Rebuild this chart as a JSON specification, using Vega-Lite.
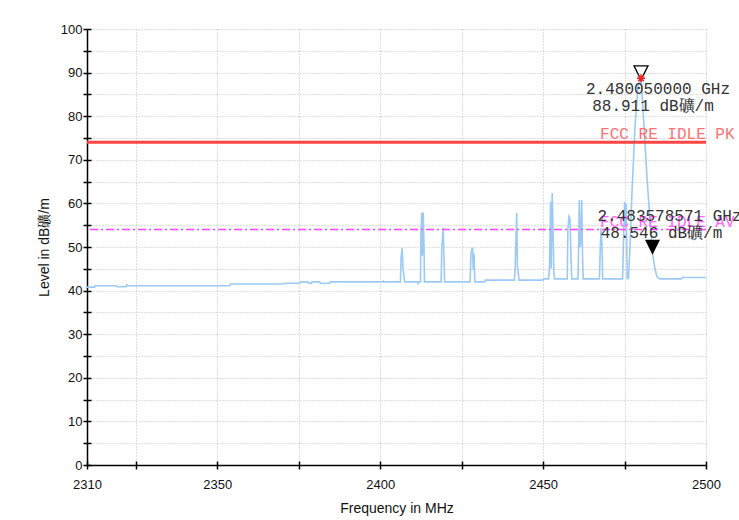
{
  "$schema": "https://vega.github.io/schema/vega-lite/v6.json",
  "width": 619,
  "height": 436,
  "autosize": {"type": "none"},
  "padding": {"left": 87, "top": 29, "right": 33, "bottom": 55},
  "background": "white",
  "config": {
    "view": {"stroke": null},
    "axis": {
      "domainColor": "#000000", "domainWidth": 1.5,
      "tickColor": "#000000", "tickWidth": 1.5, "tickSize": 4,
      "labelFont": "Liberation Sans", "labelFontSize": 13, "labelColor": "#111111",
      "titleFont": "Liberation Sans", "titleFontSize": 14, "titleFontWeight": "normal", "titleColor": "#111111",
      "gridColor": "#bdbdbd", "gridDash": [1, 2], "gridWidth": 1,
      "labelFlush": false, "labelOverlap": false
    }
  },
  "datasets": {
    "trace": [
      {"freq": 2310, "level": 40.8}, {"freq": 2312.3, "level": 40.8}, {"freq": 2312.5, "level": 41.1},
      {"freq": 2319.0, "level": 41.1}, {"freq": 2319.2, "level": 40.9}, {"freq": 2322.0, "level": 40.9},
      {"freq": 2322.2, "level": 41.3}, {"freq": 2322.5, "level": 41.1}, {"freq": 2353.8, "level": 41.1},
      {"freq": 2354.0, "level": 41.5}, {"freq": 2370.1, "level": 41.5}, {"freq": 2370.3, "level": 41.7},
      {"freq": 2375.3, "level": 41.7}, {"freq": 2375.5, "level": 42.0}, {"freq": 2377.8, "level": 42.0},
      {"freq": 2378.0, "level": 41.7}, {"freq": 2378.9, "level": 41.7}, {"freq": 2379.1, "level": 42.0},
      {"freq": 2381.4, "level": 42.0}, {"freq": 2381.6, "level": 41.7}, {"freq": 2384.5, "level": 41.7},
      {"freq": 2384.7, "level": 42.0}, {"freq": 2400.8, "level": 42.0}, {"freq": 2401.0, "level": 42.2},
      {"freq": 2401.2, "level": 42.0},
      {"freq": 2406.2, "level": 42.0}, {"freq": 2406.4, "level": 47.5}, {"freq": 2406.75, "level": 49.8},
      {"freq": 2407.0, "level": 45.0}, {"freq": 2407.3, "level": 43.2}, {"freq": 2407.5, "level": 42.0},
      {"freq": 2411.4, "level": 42.0}, {"freq": 2411.6, "level": 41.6}, {"freq": 2411.9, "level": 42.0},
      {"freq": 2412.35, "level": 42.0}, {"freq": 2412.5, "level": 53.0}, {"freq": 2412.75, "level": 57.9},
      {"freq": 2412.95, "level": 48.0}, {"freq": 2413.2, "level": 57.9}, {"freq": 2413.45, "level": 50.0},
      {"freq": 2413.6, "level": 42.0},
      {"freq": 2418.7, "level": 42.0}, {"freq": 2418.9, "level": 49.8}, {"freq": 2419.15, "level": 52.0},
      {"freq": 2419.35, "level": 54.4}, {"freq": 2419.55, "level": 48.0}, {"freq": 2419.75, "level": 42.0},
      {"freq": 2427.6, "level": 42.0}, {"freq": 2427.85, "level": 48.5}, {"freq": 2428.1, "level": 49.3},
      {"freq": 2428.35, "level": 49.8}, {"freq": 2428.55, "level": 44.8}, {"freq": 2428.8, "level": 48.5},
      {"freq": 2429.05, "level": 42.0},
      {"freq": 2432.1, "level": 42.0}, {"freq": 2432.3, "level": 42.4},
      {"freq": 2441.2, "level": 42.4}, {"freq": 2441.4, "level": 44.8}, {"freq": 2441.65, "level": 51.6},
      {"freq": 2441.9, "level": 57.8}, {"freq": 2442.1, "level": 45.5}, {"freq": 2442.3, "level": 44.8},
      {"freq": 2442.6, "level": 42.4},
      {"freq": 2449.9, "level": 42.4}, {"freq": 2450.1, "level": 42.7},
      {"freq": 2451.7, "level": 42.7}, {"freq": 2451.95, "level": 45.2}, {"freq": 2452.3, "level": 60.4},
      {"freq": 2452.5, "level": 45.0}, {"freq": 2452.8, "level": 62.4}, {"freq": 2453.1, "level": 52.4},
      {"freq": 2453.3, "level": 44.0}, {"freq": 2453.5, "level": 42.7},
      {"freq": 2457.4, "level": 42.7}, {"freq": 2457.6, "level": 54.0}, {"freq": 2457.95, "level": 57.0},
      {"freq": 2458.25, "level": 56.5}, {"freq": 2458.5, "level": 49.4}, {"freq": 2458.8, "level": 42.7},
      {"freq": 2460.7, "level": 42.7}, {"freq": 2460.9, "level": 50.0}, {"freq": 2461.1, "level": 60.8},
      {"freq": 2461.4, "level": 50.0}, {"freq": 2461.6, "level": 52.0}, {"freq": 2461.85, "level": 60.8},
      {"freq": 2462.1, "level": 48.0}, {"freq": 2462.3, "level": 42.7},
      {"freq": 2467.3, "level": 42.7}, {"freq": 2467.55, "level": 50.0}, {"freq": 2467.8, "level": 54.3},
      {"freq": 2468.05, "level": 51.0}, {"freq": 2468.3, "level": 42.7},
      {"freq": 2474.4, "level": 42.7}, {"freq": 2474.7, "level": 52.0}, {"freq": 2475.0, "level": 60.4},
      {"freq": 2475.3, "level": 55.0}, {"freq": 2475.5, "level": 60.0}, {"freq": 2475.8, "level": 43.0},
      {"freq": 2476.0, "level": 42.7},
      {"freq": 2476.2, "level": 42.8}, {"freq": 2476.67, "level": 50.0}, {"freq": 2477.28, "level": 62.5},
      {"freq": 2478.2, "level": 77.5}, {"freq": 2479.12, "level": 86.9}, {"freq": 2480.05, "level": 88.911},
      {"freq": 2480.67, "level": 81.5}, {"freq": 2481.9, "level": 65.8}, {"freq": 2482.8, "level": 56.2},
      {"freq": 2483.58, "level": 48.546}, {"freq": 2484.34, "level": 45.0}, {"freq": 2484.95, "level": 43.2},
      {"freq": 2485.87, "level": 42.7}, {"freq": 2492.5, "level": 42.7}, {"freq": 2492.7, "level": 43.0},
      {"freq": 2500, "level": 43.0}
    ],
    "limits": [
      {"kind": "PK", "label": "FCC RE IDLE PK", "level": 74, "labelAt": 2467.5},
      {"kind": "AV", "label": "FCC RE IDLE AV", "level": 54, "labelAt": 2467.5}
    ],
    "markers": [
      {"id": 1, "freq": 2480.05, "level": 88.911, "line1": "2.480050000 GHz", "line2": "88.911 dB礦/m"},
      {"id": 2, "freq": 2483.578571, "level": 48.546, "line1": "2.483578571 GHz", "line2": "48.546 dB礦/m"}
    ]
  },
  "layer": [
    {
      "data": {"name": "trace"},
      "mark": {"type": "line", "color": "#9ccaf5", "strokeWidth": 1.6, "clip": true},
      "encoding": {
        "x": {
          "field": "freq", "type": "quantitative",
          "scale": {"domain": [2310, 2500], "nice": false, "zero": false},
          "axis": {
            "orient": "bottom",
            "values": [2310, 2325, 2350, 2375, 2400, 2425, 2450, 2475, 2500],
            "format": "d",
            "labelExpr": "indexof([2310, 2350, 2400, 2450, 2500], datum.value) >= 0 ? datum.label : ''",
            "grid": true, "tickSize": 4, "labelPadding": 9,
            "title": "Frequency in MHz", "titlePadding": 10
          }
        },
        "y": {
          "field": "level", "type": "quantitative",
          "scale": {"domain": [0, 100], "nice": false, "zero": false},
          "axis": {
            "orient": "left",
            "values": [0, 5, 10, 15, 20, 25, 30, 35, 40, 45, 50, 55, 60, 65, 70, 75, 80, 85, 90, 95, 100],
            "format": "d",
            "labelExpr": "datum.value % 10 == 0 ? datum.label : ''",
            "grid": true, "tickSize": 4, "labelPadding": 1,
            "title": "Level in dB礦/m", "titlePadding": 9
          }
        }
      }
    },
    {
      "data": {"name": "limits"},
      "transform": [{"filter": "datum.kind == 'PK'"}],
      "mark": {"type": "rule", "color": "#ff4444", "strokeWidth": 3},
      "encoding": {
        "y": {"field": "level", "type": "quantitative", "scale": {"domain": [0, 100], "nice": false, "zero": false}, "axis": null}
      }
    },
    {
      "data": {"name": "limits"},
      "transform": [{"filter": "datum.kind == 'AV'"}],
      "mark": {"type": "rule", "color": "#ff44ff", "strokeWidth": 1.5, "strokeDash": [8, 3, 2, 3]},
      "encoding": {
        "y": {"field": "level", "type": "quantitative", "scale": {"domain": [0, 100], "nice": false, "zero": false}, "axis": null}
      }
    },
    {
      "data": {"name": "limits"},
      "mark": {"type": "text", "align": "left", "baseline": "middle", "dy": -8, "font": "Liberation Mono", "fontSize": 16},
      "encoding": {
        "x": {"field": "labelAt", "type": "quantitative", "scale": {"domain": [2310, 2500], "nice": false, "zero": false}, "axis": null},
        "y": {"field": "level", "type": "quantitative", "scale": {"domain": [0, 100], "nice": false, "zero": false}, "axis": null},
        "text": {"field": "label"},
        "color": {"field": "kind", "type": "nominal", "scale": {"domain": ["PK", "AV"], "range": ["#ff7070", "#ff66ff"]}, "legend": null}
      }
    },
    {
      "data": {"name": "markers"},
      "transform": [{"filter": "datum.id == 1"}],
      "mark": {"type": "text", "align": "center", "baseline": "middle", "dx": 17, "dy": 12, "font": "Liberation Mono", "fontSize": 16, "color": "#333333"},
      "encoding": {
        "x": {"field": "freq", "type": "quantitative", "scale": {"domain": [2310, 2500], "nice": false, "zero": false}, "axis": null},
        "y": {"field": "level", "type": "quantitative", "scale": {"domain": [0, 100], "nice": false, "zero": false}, "axis": null},
        "text": {"field": "line1"}
      }
    },
    {
      "data": {"name": "markers"},
      "transform": [{"filter": "datum.id == 1"}],
      "mark": {"type": "text", "align": "center", "baseline": "middle", "dx": 12, "dy": 29, "font": "Liberation Mono", "fontSize": 16, "color": "#333333"},
      "encoding": {
        "x": {"field": "freq", "type": "quantitative", "scale": {"domain": [2310, 2500], "nice": false, "zero": false}, "axis": null},
        "y": {"field": "level", "type": "quantitative", "scale": {"domain": [0, 100], "nice": false, "zero": false}, "axis": null},
        "text": {"field": "line2"}
      }
    },
    {
      "data": {"name": "markers"},
      "transform": [{"filter": "datum.id == 2"}],
      "mark": {"type": "text", "align": "center", "baseline": "middle", "dx": 17, "dy": -37, "font": "Liberation Mono", "fontSize": 16, "color": "#333333"},
      "encoding": {
        "x": {"field": "freq", "type": "quantitative", "scale": {"domain": [2310, 2500], "nice": false, "zero": false}, "axis": null},
        "y": {"field": "level", "type": "quantitative", "scale": {"domain": [0, 100], "nice": false, "zero": false}, "axis": null},
        "text": {"field": "line1"}
      }
    },
    {
      "data": {"name": "markers"},
      "transform": [{"filter": "datum.id == 2"}],
      "mark": {"type": "text", "align": "center", "baseline": "middle", "dx": 9, "dy": -20, "font": "Liberation Mono", "fontSize": 16, "color": "#333333"},
      "encoding": {
        "x": {"field": "freq", "type": "quantitative", "scale": {"domain": [2310, 2500], "nice": false, "zero": false}, "axis": null},
        "y": {"field": "level", "type": "quantitative", "scale": {"domain": [0, 100], "nice": false, "zero": false}, "axis": null},
        "text": {"field": "line2"}
      }
    },
    {
      "data": {"name": "markers"},
      "transform": [{"filter": "datum.id == 1"}],
      "mark": {"type": "point", "shape": "M-1,-1L1,-1L0,1Z", "size": 196, "filled": false, "stroke": "#000000", "strokeWidth": 1.3, "opacity": 1, "yOffset": -4.5},
      "encoding": {
        "x": {"field": "freq", "type": "quantitative", "scale": {"domain": [2310, 2500], "nice": false, "zero": false}, "axis": null},
        "y": {"field": "level", "type": "quantitative", "scale": {"domain": [0, 100], "nice": false, "zero": false}, "axis": null}
      }
    },
    {
      "data": {"name": "markers"},
      "transform": [{"filter": "datum.id == 2"}],
      "mark": {"type": "point", "shape": "M-1,-1L1,-1L0,1Z", "size": 225, "filled": true, "fill": "#000000", "opacity": 1, "yOffset": -6},
      "encoding": {
        "x": {"field": "freq", "type": "quantitative", "scale": {"domain": [2310, 2500], "nice": false, "zero": false}, "axis": null},
        "y": {"field": "level", "type": "quantitative", "scale": {"domain": [0, 100], "nice": false, "zero": false}, "axis": null}
      }
    },
    {
      "data": {"name": "markers"},
      "transform": [{"filter": "datum.id == 1"}],
      "mark": {"type": "point", "shape": "M-1,0L1,0M0,-1L0,1M-0.7,-0.7L0.7,0.7M-0.7,0.7L0.7,-0.7", "size": 64, "filled": false, "stroke": "#ee2222", "strokeWidth": 1.5, "opacity": 1, "yOffset": 1},
      "encoding": {
        "x": {
          "field": "freq", "type": "quantitative",
          "scale": {"domain": [2310, 2500], "nice": false, "zero": false},
          "axis": {
            "orient": "bottom",
            "values": [2310, 2325, 2350, 2375, 2400, 2425, 2450, 2475, 2500],
            "tickSize": -4, "labels": false, "domain": false, "grid": false, "title": null
          }
        },
        "y": {
          "field": "level", "type": "quantitative",
          "scale": {"domain": [0, 100], "nice": false, "zero": false},
          "axis": {
            "orient": "left",
            "values": [0, 5, 10, 15, 20, 25, 30, 35, 40, 45, 50, 55, 60, 65, 70, 75, 80, 85, 90, 95, 100],
            "tickSize": -4, "labels": false, "domain": false, "grid": false, "title": null
          }
        }
      }
    }
  ],
  "resolve": {"axis": {"x": "independent", "y": "independent"}}
}
